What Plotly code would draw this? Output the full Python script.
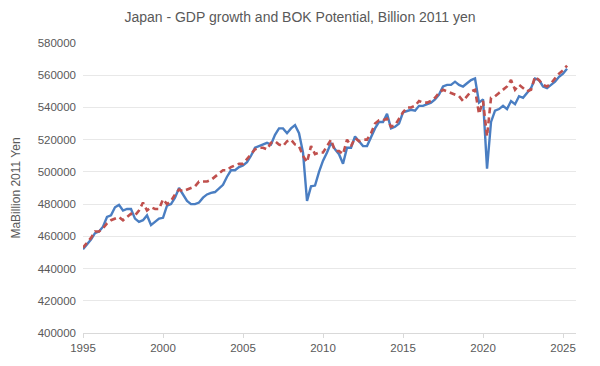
import plotly.graph_objects as go

start_year = 1995.0
gdp = [
    452000, 455000, 458000, 462000, 463000, 466000, 472000, 473000,
    478000, 479500, 476000, 477000, 477000, 471000, 469000, 470000,
    473000, 467000, 469000, 471000, 471500, 479000, 480000, 484000,
    490000, 486000, 482000, 480000, 480000, 481000, 484000, 486000,
    487000, 487500, 490000, 492000, 497000, 501000, 501000, 503000,
    504000, 506000, 510000, 515000, 516000, 517000, 518000, 517000,
    523000, 527000, 527000, 524000, 527000, 529000, 524000, 512000,
    482000, 491000, 491500, 500000, 507000, 512000, 518000, 514000,
    511000, 505000, 515000, 515000, 522000, 519000, 516000, 516000,
    522000, 527000, 531000, 531000, 536000, 527000, 528000, 530000,
    537000, 538000, 538500, 538000, 541000, 541000, 542000, 543000,
    545000, 548000, 553000, 554000, 554000, 556000, 554000, 553000,
    555000, 557000, 558000, 543000, 545000, 502000, 531000, 538000,
    539000, 541000, 539000, 544000, 542000, 547000, 546000, 549000,
    552000, 558000, 557000, 553000, 552000, 554000, 556000, 559000,
    561000, 564000,
]
potential = [
    453000, 456000, 459000, 463000, 463000, 465000, 468000, 470000,
    471000, 472000, 470000, 472000, 474000, 473000, 476000, 481000,
    476000, 478000, 477000, 477000, 483000, 480000, 482000, 486000,
    489000, 488000, 489000, 490000, 491000, 494000, 494000, 494000,
    495000, 497000, 499000, 501000, 501000, 503000, 504000, 505000,
    505000, 508000, 511000, 514000, 515000, 515000, 514000, 518000,
    519000, 517000, 516000, 519000, 520000, 517000, 516000, 510000,
    506000, 516000, 511000, 512000, 512000, 516000, 520000, 513000,
    513000, 511000, 520000, 516000, 521000, 519000, 520000, 520000,
    524000, 530000, 532000, 532000, 533000, 528000, 529000, 533000,
    537000, 540000, 540000, 541000, 544000, 543000, 543000, 544000,
    546000, 549000, 551000, 550000, 549000, 548000, 547000, 544000,
    547000, 550000, 551000, 536000, 544000, 522000, 546000, 547000,
    549000, 551000, 553000, 557000, 551000, 554000, 552000, 550000,
    551000, 559000, 557000, 554000, 553000, 555000, 558000, 561000,
    563000, 566000,
]
gdp_x = [start_year + 0.25 * i for i in range(len(gdp))]
pot_x = [start_year + 0.25 * i for i in range(len(potential))]

x_ticks = [1995, 2000, 2005, 2010, 2015, 2020, 2025]
y_ticks = list(range(400000, 580001, 20000))

fig = go.Figure()
fig.add_trace(go.Scatter(x=gdp_x, y=gdp, mode="lines", name="GDP",
                         line=dict(color="#4A7EC2", width=2.4)))
fig.add_trace(go.Scatter(x=pot_x, y=potential, mode="lines", name="BOK Potential",
                         line=dict(color="#C0504D", width=2.6, dash="6px,4px")))

fig.update_layout(
    width=600, height=366,
    margin=dict(l=83, r=24, t=43, b=33, autoexpand=False),
    paper_bgcolor="white", plot_bgcolor="white",
    showlegend=False,
    font=dict(family="Liberation Sans, Arial, sans-serif", color="#595959", size=11),
    title=dict(text="Japan - GDP growth and BOK Potential, Billion 2011 yen",
               x=0.5, xanchor="center", y=0.953, yanchor="middle",
               font=dict(size=14, color="#595959")),
)
fig.update_xaxes(range=[1995, 2025.81], tickvals=x_ticks, ticktext=[str(t) for t in x_ticks],
                 showgrid=False, showline=True, linecolor="#d9d9d9", linewidth=1,
                 ticks="outside", tickcolor="#d9d9d9", ticklen=4,
                 tickfont=dict(size=11.5, color="#595959"), zeroline=False,
                 automargin=False)
fig.update_yaxes(range=[400000, 580000], tickvals=y_ticks, ticktext=[str(t) for t in y_ticks],
                 showgrid=True, gridcolor="#e8e8e8", gridwidth=1.4,
                 showline=False, zeroline=False, ticks="", ticklabelstandoff=6,
                 tickfont=dict(size=11.5, color="#595959"),
                 automargin=False,
                 title=dict(text="MaBillion 2011 Yen", font=dict(size=12, color="#595959"),
                            standoff=14))

fig.write_html("out.html",
               config={"displayModeBar": False},
               post_script="document.body.style.margin='0px';document.body.style.padding='0px';")
